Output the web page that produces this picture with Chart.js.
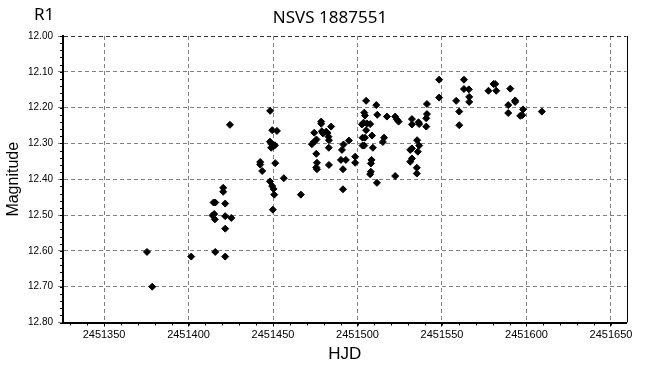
<!DOCTYPE html>
<html>
<head>
<meta charset="utf-8">
<title>NSVS 1887551</title>
<script src="https://cdn.jsdelivr.net/npm/chart.js@4.4.1/dist/chart.umd.min.js"></script>
<style>
    html, body { margin: 0; padding: 0; background: #fff; }
    canvas { display: block; }
</style>
</head>
<body>
<canvas id="lightCurve" width="656" height="373"></canvas>
<script>
const hjd = [
    2451375.4, 2451378.5, 2451401.6, 2451415.8, 2451421.7, 2451414.8, 2451415.8, 2451421.7, 2451415.2,
    2451414.2, 2451415.6, 2451421.7, 2451425.3, 2451421.7, 2451420.5, 2451420.5, 2451424.5,
    2451448.3, 2451449.5, 2451452.3, 2451448.2, 2451449.3, 2451450.3, 2451451.1, 2451448.9, 2451442.4,
    2451442.4, 2451451.3, 2451443.6, 2451448.2, 2451449.5, 2451450.3, 2451456.4, 2451450.7, 2451466.5,
    2451449.9,
    2451478.5, 2451478.5, 2451484.4, 2451474.4, 2451478.9, 2451479.5, 2451481.5, 2451482.2, 2451482.8,
    2451483.1, 2451475.7, 2451474.4, 2451473.0, 2451483.0, 2451475.6, 2451476.0, 2451475.6, 2451476.0,
    2451483.1, 2451494.9, 2451491.7, 2451490.8, 2451490.2, 2451493.1, 2451498.6, 2451498.6, 2451491.4,
    2451491.4,
    2451505.1, 2451511.1, 2451504.0, 2451504.4, 2451511.7, 2451517.4, 2451522.3, 2451523.3, 2451524.3,
    2451502.6, 2451503.6, 2451505.6, 2451507.5, 2451505.1, 2451508.6, 2451503.0, 2451504.4, 2451515.7,
    2451515.0, 2451503.0, 2451504.0, 2451509.1, 2451508.3, 2451507.9, 2451507.9, 2451507.5, 2451511.5,
    2451522.3,
    2451532.2, 2451532.2, 2451536.1, 2451536.5, 2451541.1, 2451541.1, 2451540.7, 2451540.7, 2451535.3,
    2451536.5, 2451532.2, 2451531.2, 2451535.7, 2451532.2, 2451531.2, 2451535.1, 2451535.1, 2451548.3,
    2451548.3,
    2451558.4, 2451560.2, 2451560.2, 2451563.0, 2451563.0, 2451565.9, 2451566.1, 2451566.1, 2451577.5,
    2451580.5, 2451581.5, 2451582.1, 2451590.4, 2451593.3, 2451593.3, 2451589.2, 2451589.2, 2451598.0,
    2451596.3, 2451597.5, 2451609.1
];
const magnitude = [
    12.603, 12.700, 12.616, 12.603, 12.616, 12.465, 12.465, 12.468, 12.497,
    12.501, 12.512, 12.503, 12.508, 12.538, 12.424, 12.435, 12.248,
    12.209, 12.263, 12.265, 12.295, 12.303, 12.308, 12.305, 12.312, 12.352,
    12.359, 12.355, 12.377, 12.406, 12.419, 12.427, 12.397, 12.443, 12.443,
    12.485,
    12.239, 12.245, 12.253, 12.270, 12.266, 12.272, 12.267, 12.271, 12.281,
    12.291, 12.289, 12.295, 12.302, 12.312, 12.329, 12.354, 12.367, 12.372,
    12.360, 12.292, 12.303, 12.318, 12.346, 12.346, 12.337, 12.354, 12.372,
    12.428,
    12.181, 12.193, 12.214, 12.222, 12.220, 12.225, 12.225, 12.233, 12.239,
    12.247, 12.242, 12.244, 12.246, 12.263, 12.278, 12.284, 12.284, 12.284,
    12.296, 12.306, 12.306, 12.312, 12.346, 12.356, 12.379, 12.386, 12.410,
    12.391,
    12.232, 12.247, 12.241, 12.246, 12.190, 12.218, 12.230, 12.253, 12.291,
    12.306, 12.314, 12.318, 12.323, 12.342, 12.351, 12.368, 12.384, 12.122,
    12.172,
    12.181, 12.211, 12.249, 12.122, 12.148, 12.149, 12.170, 12.184, 12.153,
    12.134, 12.134, 12.153, 12.147, 12.180, 12.184, 12.193, 12.215, 12.205,
    12.223, 12.221, 12.211
];

// Axis ticks
const hjdTicks = [2451350, 2451400, 2451450, 2451500, 2451550, 2451600, 2451650];
const magTicks = [12.0, 12.1, 12.2, 12.3, 12.4, 12.5, 12.6, 12.7, 12.8];
const hjdRange = [2451325.7, 2451659.2];
const magRange = [12.0, 12.8];

const gridGray = '#808080';

// minor tick marks, solid right border, title and band label
const frameExtras = {
    id: 'frameExtras',
    afterDraw(chart) {
        const ctx = chart.ctx;
        const area = chart.chartArea;
        const xs = chart.scales.x;
        const ys = chart.scales.y;
        ctx.save();
        ctx.strokeStyle = '#000';
        ctx.lineWidth = 1;
        ctx.beginPath();
        for (let v = 2451330; v < hjdRange[1]; v += 10) {
            const px = Math.round(xs.getPixelForValue(v)) + 0.5;
            ctx.moveTo(px, area.bottom);
            ctx.lineTo(px, area.bottom + 3);
        }
        for (let i = 0; i <= 40; i++) {
            const py = Math.round(ys.getPixelForValue(12 + i * 0.02)) + 0.5;
            ctx.moveTo(area.left - 3, py);
            ctx.lineTo(area.left, py);
        }
        // right border
        ctx.moveTo(Math.round(area.right) + 0.5, area.top);
        ctx.lineTo(Math.round(area.right) + 0.5, area.bottom);
        ctx.stroke();

        ctx.fillStyle = '#000';
        ctx.font = '17px "Noto Sans"';
        ctx.textBaseline = 'middle';
        ctx.textAlign = 'left';
        ctx.fillText('R1', 34, 15);
        ctx.textAlign = 'center';
        ctx.fillText('NSVS 1887551', 330, 18);
        ctx.restore();
    }
};

const points = hjd.map((t, i) => ({ x: t, y: magnitude[i] }));

new Chart(document.getElementById('lightCurve'), {
    type: 'scatter',
    data: {
        datasets: [{
            label: 'R1',
            data: points,
            pointStyle: 'rectRot',
            pointRadius: 3.5,
            pointHoverRadius: 3.5,
            backgroundColor: '#000',
            borderColor: '#000',
            borderWidth: 1
        }]
    },
    options: {
        responsive: false,
        animation: false,
        events: [],
        layout: {
            padding: { top: 36, left: 0, right: 29.5, bottom: 0 }
        },
        plugins: {
            legend: { display: false },
            tooltip: { enabled: false },
            title: { display: false }
        },
        scales: {
            x: {
                type: 'linear',
                min: hjdRange[0],
                max: hjdRange[1],
                afterBuildTicks: scale => {
                    scale.ticks = hjdTicks.map(v => ({ value: v }));
                },
                afterFit: scale => { scale.height = 50.5; },
                ticks: {
                    color: '#000',
                    font: { family: '"Liberation Sans"', size: 11 },
                    padding: 2,
                    maxRotation: 0,
                    callback: v => String(v)
                },
                grid: {
                    color: gridGray,
                    lineWidth: 1,
                    tickLength: 4,
                    tickColor: '#000',
                    tickBorderDash: []
                },
                border: { display: true, color: '#000', width: 2, dash: [4, 3] },
                title: {
                    display: true,
                    text: 'HJD',
                    color: '#000',
                    font: { family: '"Liberation Sans"', size: 17 },
                    padding: { top: 0, bottom: 8 }
                }
            },
            y: {
                type: 'linear',
                reverse: true,
                min: magRange[0],
                max: magRange[1],
                afterBuildTicks: scale => {
                    scale.ticks = magTicks.map(v => ({ value: v }));
                },
                afterFit: scale => { scale.width = 63; },
                ticks: {
                    color: '#000',
                    font: { family: '"Liberation Sans"', size: 10 },
                    padding: 5,
                    callback: v => v.toFixed(2)
                },
                grid: {
                    color: ctx => (ctx.tick && ctx.tick.value === 12 ? '#303030' : gridGray),
                    lineWidth: 1,
                    tickLength: 5,
                    tickColor: gridGray,
                    tickBorderDash: []
                },
                border: { display: true, color: '#000', width: 2, dash: [4, 3] },
                title: {
                    display: true,
                    text: 'Magnitude',
                    color: '#000',
                    font: { family: '"Liberation Sans"', size: 16 },
                    padding: { top: 4, bottom: 0 }
                }
            }
        }
    },
    plugins: [frameExtras]
});
</script>
</body>
</html>
